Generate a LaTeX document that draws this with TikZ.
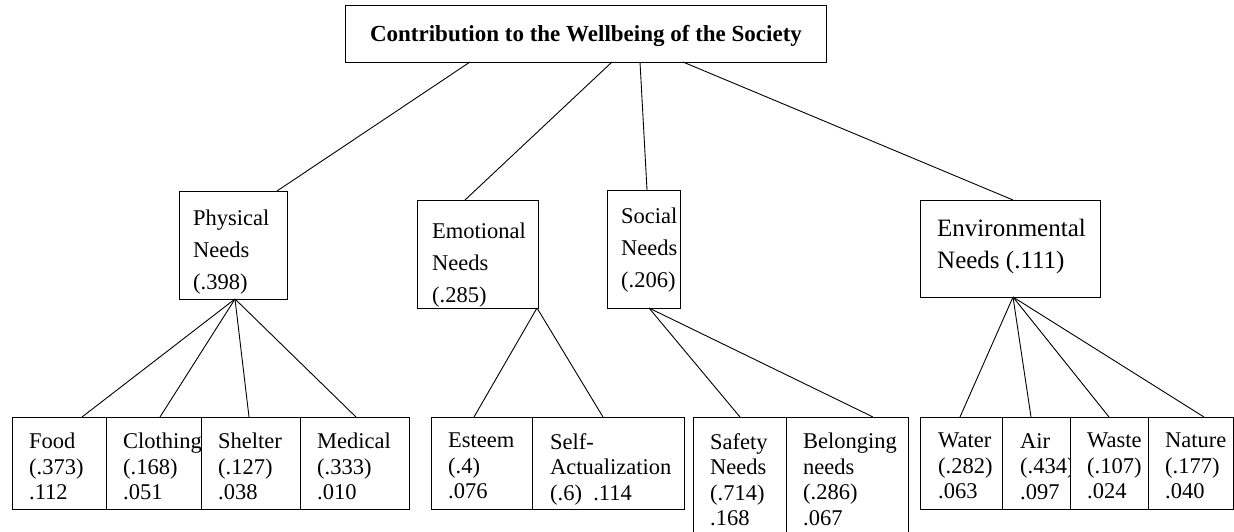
\documentclass[tikz,border=0pt]{standalone}
\usepackage{fontspec}
\setmainfont{Liberation Serif}
\usetikzlibrary{calc}
\begin{document}
\begin{tikzpicture}[x=1pt,y=-1pt,
  box/.style={draw, fill=white, line width=0.9pt, inner sep=0pt, outer sep=0pt, anchor=north west},
  txt/.style={inner sep=0pt, anchor=north west, align=left, font=\fontsize{22.5}{25.5}\selectfont},
  mtxt/.style={inner sep=0pt, anchor=north west, align=left, font=\fontsize{22.5}{32}\selectfont},
  conn/.style={line width=0.9pt}]
\useasboundingbox (0,0) rectangle (1234,531);
\clip (0,0) rectangle (1234,531);
% title
\node[box, minimum width=481pt, minimum height=57pt] (title) at (345,5) {};
\node[font=\fontsize{23}{28}\selectfont\bfseries, inner sep=0pt] (ttitle) at (586,36) {Contribution to the Wellbeing of the Society};
% middle boxes
\node[box, minimum width=108pt, minimum height=108pt] (phys) at (179,191) {};
\node[mtxt] (tphys) at (193,210) {Physical\\Needs\\(.398)};
\node[box, minimum width=121pt, minimum height=108pt] (emo) at (417,200) {};
\node[mtxt] (temo) at (432,223) {Emotional\\Needs\\(.285)};
\node[box, minimum width=73pt, minimum height=118pt] (soc) at (607,190) {};
\node[mtxt] (tsoc) at (621,208) {Social\\Needs\\(.206)};
\node[box, minimum width=180pt, minimum height=97pt] (env) at (920,200) {};
\node[mtxt, font=\fontsize{25}{32}\selectfont] (tenv) at (937,219) {Environmental\\Needs (.111)};
% bottom boxes: physical
\node[box, minimum width=94pt, minimum height=92pt] (food) at (12,417) {};
\node[txt] (tfood) at (29,433) {Food\\(.373)\\.112};
\node[box, minimum width=95pt, minimum height=92pt] (cloth) at (106,417) {};
\node[txt] (tcloth) at (123,433) {Clothing\\(.168)\\.051};
\node[box, minimum width=99pt, minimum height=92pt] (shel) at (201,417) {};
\node[txt] (tshel) at (218,433) {Shelter\\(.127)\\.038};
\node[box, minimum width=109pt, minimum height=92pt] (med) at (300,417) {};
\node[txt] (tmed) at (317,433) {Medical\\(.333)\\.010};
% emotional
\node[box, minimum width=101pt, minimum height=92pt] (est) at (431,417) {};
\node[txt] (test) at (448,433) {Esteem\\(.4)\\.076};
\node[box, minimum width=152pt, minimum height=92pt] (self) at (532,417) {};
\node[txt] (tself) at (550,433) {Self-\\Actualization\\(.6)~~.114};
% social
\node[box, minimum width=93pt, minimum height=140pt] (safe) at (693,417) {};
\node[txt] (tsafe) at (710,433) {Safety\\Needs\\(.714)\\.168};
\node[box, minimum width=122pt, minimum height=140pt] (bel) at (786,417) {};
\node[txt] (tbel) at (803,433) {Belonging\\needs\\(.286)\\.067};
% environmental
\node[box, minimum width=82pt, minimum height=92pt] (wat) at (920,417) {};
\node[txt] (twat) at (938,433) {Water\\(.282)\\.063};
\node[box, minimum width=68pt, minimum height=92pt] (air) at (1002,417) {};
\node[txt] (tair) at (1020,433) {Air\\(.434)\\.097};
\node[box, minimum width=78pt, minimum height=92pt] (was) at (1070,417) {};
\node[txt] (twas) at (1087,433) {Waste\\(.107)\\.024};
\node[box, minimum width=85pt, minimum height=92pt] (nat) at (1148,417) {};
\node[txt] (tnat) at (1165,433) {Nature\\(.177)\\.040};
% connectors top
\draw[conn] ($(title.south west)+(125,0)$) -- ($(phys.north west)+(98,0)$);
\draw[conn] ($(title.south west)+(267,0)$) -- ($(emo.north west)+(48,0)$);
\draw[conn] ($(title.south west)+(295,0)$) -- ($(soc.north west)+(40,0)$);
\draw[conn] ($(title.south west)+(338,0)$) -- ($(env.north west)+(93,0)$);
% physical fan
\coordinate (pa) at ($(phys.south west)+(56,0)$);
\draw[conn] (pa) -- ($(food.north west)+(70,0)$);
\draw[conn] (pa) -- ($(cloth.north west)+(54,0)$);
\draw[conn] (pa) -- ($(shel.north west)+(48,0)$);
\draw[conn] (pa) -- ($(med.north west)+(56,0)$);
% emotional fan
\coordinate (ea) at ($(emo.south west)+(120,0)$);
\draw[conn] (ea) -- ($(est.north west)+(43,0)$);
\draw[conn] (ea) -- ($(self.north west)+(71,0)$);
% social fan
\coordinate (sa) at ($(soc.south west)+(42,0)$);
\draw[conn] (sa) -- ($(safe.north west)+(47,0)$);
\draw[conn] (sa) -- ($(bel.north west)+(87,0)$);
% environmental fan
\coordinate (va) at ($(env.south west)+(93,0)$);
\draw[conn] (va) -- ($(wat.north west)+(40,0)$);
\draw[conn] (va) -- ($(air.north west)+(29,0)$);
\draw[conn] (va) -- ($(was.north west)+(39,0)$);
\draw[conn] (va) -- ($(nat.north west)+(56,0)$);
\end{tikzpicture}
\end{document}
